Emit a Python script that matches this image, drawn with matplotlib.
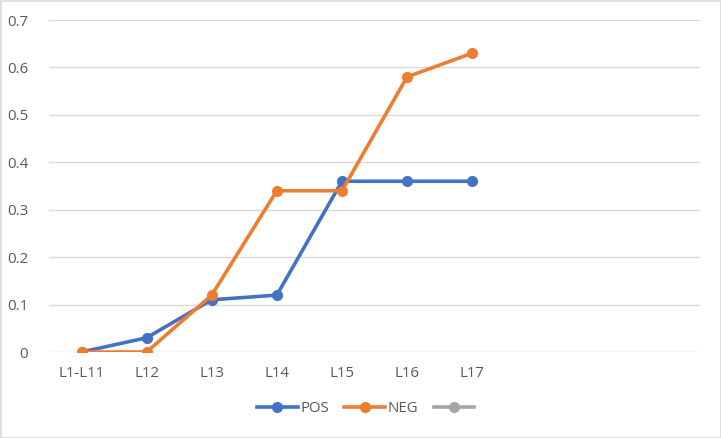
import numpy as np
import matplotlib.pyplot as plt
from matplotlib.patches import Rectangle

categories = ['L1-L11', 'L12', 'L13', 'L14', 'L15', 'L16', 'L17', '', '', '']
pos = [0, 0.03, 0.11, 0.12, 0.36, 0.36, 0.36]
neg = [0, 0, 0.12, 0.34, 0.34, 0.58, 0.63]
yticks = [0, 0.1, 0.2, 0.3, 0.4, 0.5, 0.6, 0.7]
ylabels = ['0', '0.1', '0.2', '0.3', '0.4', '0.5', '0.6', '0.7']

plt.rcParams['font.family'] = ['Open Sans', 'DejaVu Sans']
txt = '#595959'

fig = plt.figure(figsize=(7.21, 4.38), dpi=100)
ax = fig.add_axes([49/721, 1-352/438, 651/721, 332/438])

x = np.arange(len(categories))
ax.plot(x[:len(pos)], pos, color='#4472C4', lw=2.6, marker='o', ms=7, label='POS', zorder=3)
ax.plot(x[:len(neg)], neg, color='#ED7D31', lw=2.6, marker='o', ms=7, label='NEG', zorder=3)
ax.plot([], [], color='#A5A5A5', lw=2.6, marker='o', ms=7, label=' ')

ax.set_xlim(-0.5, len(categories)-0.5)
ax.set_ylim(0, 0.7)
ax.set_yticks(yticks)
ax.set_yticklabels(ylabels)
ax.set_xticks(x)
ax.set_xticklabels(categories)
ax.grid(axis='y', color='#D9D9D9', lw=1)
ax.set_axisbelow(True)
for s in ax.spines.values():
    s.set_visible(False)
ax.tick_params(axis='both', length=0, colors=txt, labelsize=10.8)
ax.tick_params(axis='y', pad=15)
ax.tick_params(axis='x', pad=10)

leg = fig.legend(loc='center', bbox_to_anchor=(369/721, 1-409/438), ncol=3, frameon=False,
                 fontsize=10.8, handlelength=2.7, columnspacing=1.0, handletextpad=0.2)
for t in leg.get_texts():
    t.set_color(txt)

fig.patches.append(Rectangle((0.5/721, 0.5/438), 1-1/721, 1-1/438, transform=fig.transFigure,
                             fill=False, edgecolor='#D9D9D9', lw=1.2))

fig.savefig('out.png', dpi=100)
